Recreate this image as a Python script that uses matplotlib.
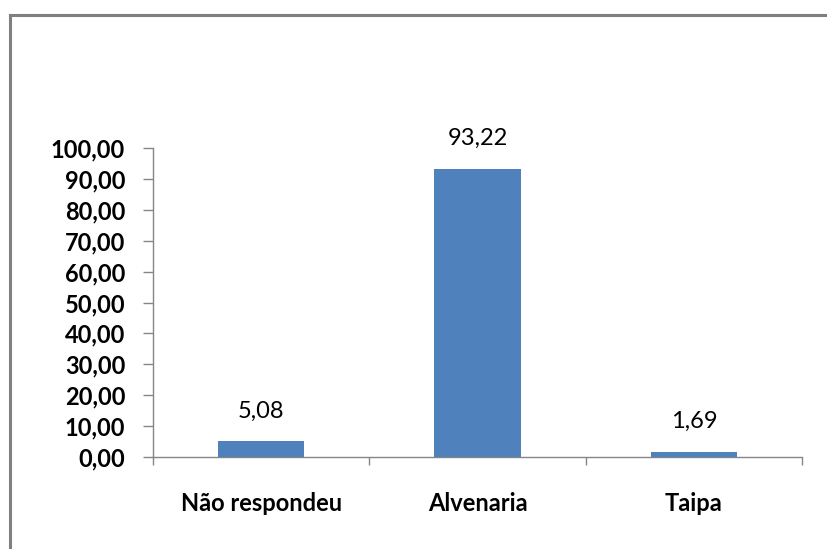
import numpy as np
import matplotlib.pyplot as plt
from matplotlib.lines import Line2D

categorias = ["Não respondeu", "Alvenaria", "Taipa"]
valores = [5.08, 93.22, 1.69]
yticks = np.arange(0, 101, 10)

plt.rcParams['font.family'] = ['Lato', 'DejaVu Sans']

fig = plt.figure(figsize=(8.27, 5.49), dpi=100)
ax = fig.add_axes([153 / 827, 1 - 457 / 549, (802 - 153) / 827, (457 - 148) / 549])

x = np.arange(len(categorias))
barras = ax.bar(x, valores, width=0.4, color='#4F81BD', zorder=3)

# rótulos de valor acima das barras
for xi, v in zip(x, valores):
    ax.annotate(f"{v:.2f}".replace('.', ','), xy=(xi, v), xytext=(0, 17),
                textcoords='offset points', ha='center', va='baseline',
                fontsize=17, color='black')

ax.set_xlim(-0.5, len(categorias) - 0.5)
ax.set_ylim(0, 100)

# eixo y
ax.set_yticks(yticks)
ax.set_yticklabels([f"{t:.2f}".replace('.', ',') for t in yticks],
                   fontsize=17, fontweight='bold')
ax.tick_params(axis='y', which='major', length=7, width=1, color='#868686', pad=13)

# eixo x: ticks nas divisões, rótulos no centro
ax.set_xticks(np.arange(-0.5, len(categorias), 1.0))
ax.set_xticklabels([])
ax.tick_params(axis='x', which='major', length=6, width=1, color='#868686')
ax.set_xticks(x, minor=True)
ax.set_xticklabels(categorias, minor=True, fontsize=17, fontweight='bold')
ax.tick_params(axis='x', which='minor', length=0, pad=39)
for lbl in ax.get_xticklabels(minor=True):
    lbl.set_va('baseline')

for s in ['top', 'right']:
    ax.spines[s].set_visible(False)
for s in ['left', 'bottom']:
    ax.spines[s].set_color('#868686')
    ax.spines[s].set_linewidth(1)

# moldura do gráfico (só topo e esquerda visíveis)
bx, by = 9.5 / 827, 1 - 14.5 / 549
fig.add_artist(Line2D([bx, 1.0], [by, by], color='#808080', linewidth=2.2,
                      transform=fig.transFigure))
fig.add_artist(Line2D([bx, bx], [0.0, by], color='#808080', linewidth=2.2,
                      transform=fig.transFigure))

plt.savefig("out.png", dpi=100)
